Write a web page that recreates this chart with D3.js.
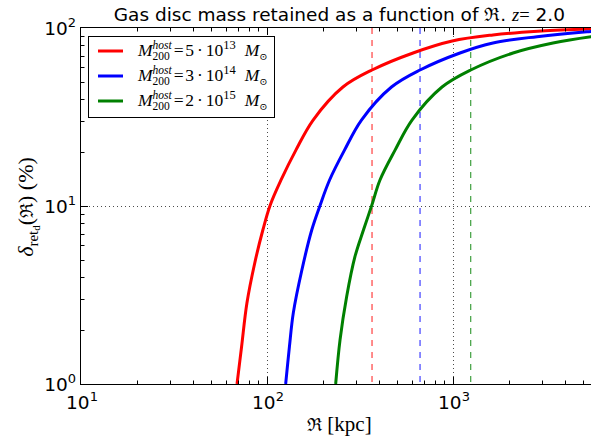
<!DOCTYPE html>
<html>
<head>
<meta charset="utf-8">
<script src="https://cdn.jsdelivr.net/npm/d3@7"></script>
<style>
  html, body { margin: 0; padding: 0; background: #fff; }
  svg { display: block; }
</style>
</head>
<body>
<svg id="chart" width="591" height="437"></svg>
<script>
// Retained gas-disc mass (%) against ram-pressure radius for three host masses, z = 2.0
const seriesColors = ["#ff0000", "#0000ff", "#008000"];
const massMantissa = ["5", "3", "2"];
const massExponent = ["13", "14", "15"];

const redR   = [69, 73, 78, 86, 95, 104, 119, 143, 177, 256, 367, 610, 990, 1640, 2860, 5450, 6000];
const redPct = [1.0, 1.62, 2.85, 4.8, 7.33, 10.1, 14.0, 20.6, 30.4, 46.6, 58.1, 72.4, 84.5, 91.4, 96.0, 99.0, 99.4];

const blueR   = [126, 132, 138.5, 154, 174, 193, 217, 261, 322, 467, 665, 1090, 1641, 2829, 5250, 6000];
const bluePct = [1.0, 1.62, 2.51, 4.37, 7.33, 10.1, 14.0, 20.6, 30.4, 46.6, 58.1, 72.4, 82.4, 89.4, 95.3, 96.2];

const greenR   = [234, 247, 268, 297, 330, 366, 405, 488, 602, 873, 1245, 2102, 3448, 5520, 6000];
const greenPct = [1.0, 1.77, 3.09, 5.19, 7.33, 10.1, 14.0, 20.6, 30.4, 46.6, 58.1, 72.4, 82.4, 89.4, 90.3];

// characteristic radius of each host (dashed verticals)
const cutRadii = [367, 665, 1245];

const xMajor = [10, 100, 1000];
const xMajorExp = ["1", "2", "3"];
const yMajor = [1, 10, 100];
const yMajorExp = ["0", "1", "2"];
const gridX = [100, 1000];
const gridY = [10];

const series = [
  { r: redR, p: redPct },
  { r: blueR, p: bluePct },
  { r: greenR, p: greenPct }
];

const svg = d3.select("#chart");
const axLeft = 81, axTop = 28, axBottom = 384;
const x = d3.scaleLog().domain([10, 6000]).range([axLeft, axLeft + 186 * Math.log10(600)]);
const y = d3.scaleLog().domain([1, 100]).range([axBottom, axTop]);
const axRight = x.range()[1];

const sansFont = "DejaVu Sans, sans-serif";
const serifFont = "Liberation Serif, DejaVu Serif, serif";

svg.append("defs").append("clipPath").attr("id", "plotClip")
  .append("rect").attr("x", axLeft).attr("y", axTop - 2)
  .attr("width", axRight - axLeft).attr("height", axBottom - axTop + 2);

const plot = svg.append("g").attr("clip-path", "url(#plotClip)");

// dotted grid at interior decades
plot.selectAll("line.gx").data(gridX).join("line")
  .attr("x1", d => Math.round(x(d)) + 0.5).attr("x2", d => Math.round(x(d)) + 0.5)
  .attr("y1", axTop).attr("y2", axBottom)
  .attr("stroke", "#000").attr("stroke-width", 1)
  .attr("stroke-dasharray", "1,3").attr("opacity", 0.7);
plot.selectAll("line.gy").data(gridY).join("line")
  .attr("x1", axLeft).attr("x2", axRight)
  .attr("y1", d => Math.round(y(d)) + 0.5).attr("y2", d => Math.round(y(d)) + 0.5)
  .attr("stroke", "#000").attr("stroke-width", 1)
  .attr("stroke-dasharray", "1,3").attr("opacity", 0.7);

// dashed characteristic radii
plot.selectAll("line.cut").data(cutRadii).join("line")
  .attr("x1", d => x(d)).attr("x2", d => x(d))
  .attr("y1", axTop).attr("y2", axBottom)
  .attr("stroke", (d, i) => seriesColors[i]).attr("stroke-width", 1.2)
  .attr("stroke-dasharray", "6,6").attr("opacity", 0.75);

// curves
const line = d3.line()
  .x(d => x(d[0])).y(d => y(d[1]))
  .curve(d3.curveCatmullRom.alpha(0.5));
series.forEach((s, i) => {
  plot.append("path")
    .datum(s.r.map((r, k) => [r, s.p[k]]))
    .attr("d", line)
    .attr("fill", "none")
    .attr("stroke", seriesColors[i])
    .attr("stroke-width", 3);
});

// axes frame (right spine sits beyond the canvas)
const frame = svg.append("g").attr("stroke", "#000").attr("stroke-width", 1);
frame.append("line").attr("x1", axLeft).attr("x2", axRight).attr("y1", axBottom + 0.5).attr("y2", axBottom + 0.5);
frame.append("line").attr("x1", axLeft).attr("x2", axRight).attr("y1", axTop - 0.5).attr("y2", axTop - 0.5);
frame.append("line").attr("x1", axLeft - 0.5).attr("x2", axLeft - 0.5).attr("y1", axTop - 1).attr("y2", axBottom + 1);

// inward ticks on bottom/top and left
const xMinor = [];
[10, 100, 1000].forEach(dec => { for (let m = 2; m <= 9; m++) if (dec * m <= 6000) xMinor.push(dec * m); });
const yMinor = [];
[1, 10].forEach(dec => { for (let m = 2; m <= 9; m++) yMinor.push(dec * m); });

const tk = svg.append("g").attr("stroke", "#000").attr("stroke-width", 1);
function xTicks(vals, len) {
  vals.forEach(v => {
    const px = Math.round(x(v)) + 0.5;
    tk.append("line").attr("x1", px).attr("x2", px).attr("y1", axBottom).attr("y2", axBottom - len);
    tk.append("line").attr("x1", px).attr("x2", px).attr("y1", axTop).attr("y2", axTop + len);
  });
}
function yTicks(vals, len) {
  vals.forEach(v => {
    const py = Math.round(y(v)) + 0.5;
    tk.append("line").attr("x1", axLeft).attr("x2", axLeft + len).attr("y1", py).attr("y2", py);
  });
}
xTicks(xMajor.slice(1), 7);
xTicks(xMinor, 3.5);
yTicks(yMajor.slice(1, 2), 7);
yTicks(yMinor, 3.5);

// tick labels as powers of ten
function powerLabel(g, px, py, base, exp, anchor) {
  const t = g.append("text")
    .attr("font-family", sansFont).attr("font-size", 18.5)
    .attr("fill", "#000").attr("text-anchor", anchor)
    .attr("x", px).attr("y", py);
  t.append("tspan").text(base);
  t.append("tspan").attr("font-size", 13).attr("dy", -8.5).text(exp);
  return t;
}
const labels = svg.append("g");
xMajor.forEach((v, i) => powerLabel(labels, x(v) + 1, 409, "10", xMajorExp[i], "middle"));
yMajor.forEach((v, i) => powerLabel(labels, axLeft - 5, y(v) + 7, "10", yMajorExp[i], "end"));

// title
const title = svg.append("text")
  .attr("x", (axLeft + axRight) / 2).attr("y", 21)
  .attr("text-anchor", "middle").attr("font-size", 18.5)
  .attr("font-family", sansFont).attr("fill", "#000");
title.append("tspan").text("Gas disc mass retained as a function of ");
title.append("tspan").attr("font-family", "DejaVu Serif, serif").text("\u211C");
title.append("tspan").text(". ");
title.append("tspan").attr("font-family", serifFont).attr("font-style", "italic").text("z");
title.append("tspan").attr("font-family", serifFont).text("=");
title.append("tspan").text(" 2.0");

// x-axis label
const xl = svg.append("text")
  .attr("x", (axLeft + axRight) / 2).attr("y", 431)
  .attr("text-anchor", "middle").attr("font-size", 21)
  .attr("font-family", serifFont).attr("fill", "#000");
xl.append("tspan").attr("font-family", "DejaVu Serif, serif").attr("font-size", 18).text("\u211C");
xl.append("tspan").text(" [kpc]");

// y-axis label
const yl = svg.append("text")
  .attr("transform", "translate(33,207) rotate(-90)")
  .attr("text-anchor", "middle").attr("font-size", 22)
  .attr("font-family", serifFont).attr("fill", "#000");
yl.append("tspan").attr("font-style", "italic").text("\u03B4");
yl.append("tspan").attr("font-size", 15).attr("dy", 5).text("ret");
yl.append("tspan").attr("font-size", 11).attr("dy", 2).text("d");
yl.append("tspan").attr("dy", -7).text("(");
yl.append("tspan").attr("font-family", "DejaVu Serif, serif").attr("font-size", 18).text("\u211C");
yl.append("tspan").text(") (%)");

// legend
const legend = svg.append("g");
legend.append("rect")
  .attr("x", 88.5).attr("y", 36.5).attr("width", 186).attr("height", 81)
  .attr("fill", "#fff").attr("stroke", "#000").attr("stroke-width", 1);

const legRowY = [51, 76, 101];
legRowY.forEach((ry, i) => {
  legend.append("line")
    .attr("x1", 98).attr("x2", 123).attr("y1", ry).attr("y2", ry)
    .attr("stroke", seriesColors[i]).attr("stroke-width", 3);
  const base = ry + 5;
  let cx = 138;
  const put = (txt, opts) => {
    const t = legend.append("text")
      .attr("x", cx).attr("y", base + (opts.shift || 0))
      .attr("font-family", serifFont)
      .attr("font-size", opts.size || 17.5)
      .attr("font-style", opts.italic ? "italic" : "normal")
      .attr("fill", "#000").text(txt);
    return t.node().getComputedTextLength();
  };
  cx += put("M", { italic: true });
  // stacked super/subscript on the host mass symbol
  const wSup = put("host", { italic: true, size: 11.5, shift: -7 });
  const wSub = put("200", { size: 11.5, shift: 3.5 });
  cx += Math.max(wSup, wSub) + 2;
  cx += put("=", {});
  cx += 1.5;
  cx += put(massMantissa[i], {});
  cx += 3;
  cx += put("\u00B7", {});
  cx += 3;
  cx += put("10", {});
  cx += put(massExponent[i], { size: 12.5, shift: -7 });
  cx += 9;
  cx += put("M", { italic: true });
  put("\u2299", { size: 10, shift: 4 });
});
</script>
</body>
</html>
